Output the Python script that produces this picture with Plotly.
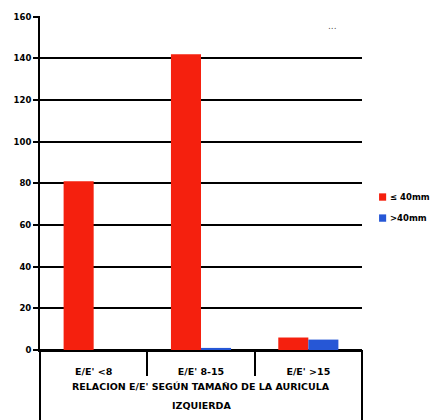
import plotly.graph_objects as go

# Categories and counts per left-atrium size group
categories = ["E/E' <8", "E/E' 8-15", "E/E' >15"]
series_names = ["≤ 40mm", ">40mm"]
values_le40 = [81, 142, 6]
values_gt40 = [0, 1, 5]
y_ticks = [0, 20, 40, 60, 80, 100, 120, 140, 160]
axis_title = ["RELACION E/E' SEGÚN TAMAÑO DE LA AURICULA", "IZQUIERDA"]

red = "#f5200e"
blue = "#2657d6"
colors = [red, blue]
font_main = "DejaVu Sans"

fig = go.Figure()
for name, vals, col in zip(series_names, [values_le40, values_gt40], colors):
    fig.add_trace(go.Bar(x=categories, y=vals, name=name,
                         marker=dict(color=col, line=dict(width=0)),
                         showlegend=False))

fig.update_layout(
    width=442, height=420,
    margin=dict(l=40, r=80, t=16, b=70, autoexpand=False),
    paper_bgcolor="white", plot_bgcolor="white",
    barmode="group", bargap=0.44, bargroupgap=0,
    font=dict(family=font_main, color="black"),
)

fig.update_yaxes(
    range=[0, 160.4], tickvals=y_ticks, showgrid=True, gridcolor="black",
    gridwidth=2, showline=True, linecolor="black", linewidth=2,
    ticks="outside", ticklen=5, tickwidth=2, tickcolor="black",
    zeroline=True, zerolinecolor="black", zerolinewidth=2,
    tickfont=dict(size=8.5, family=font_main, weight="bold"),
)

fig.update_xaxes(
    type="category", showline=True, linecolor="black", linewidth=2,
    ticks="outside", tickson="boundaries", ticklen=24, tickwidth=2,
    tickcolor="black", showgrid=False,
    tickfont=dict(size=9.5, family=font_main, weight="bold"),
    ticklabelstandoff=12,
)

# two-line category axis title
for line, yp in zip(axis_title, [-0.11, -0.165]):
    fig.add_annotation(text=line, xref="paper", yref="paper", x=0.5, y=yp,
                       xanchor="center", yanchor="middle", showarrow=False,
                       font=dict(size=9.5, family=font_main, weight="bold"))

# compact legend to the right of the plot: small square key + label
for i, (name, col) in enumerate(zip(series_names, colors)):
    yp = 0.458 - i * 0.063
    fig.add_shape(type="rect", xref="paper", yref="paper",
                  x0=1.053, x1=1.075, y0=yp - 0.011, y1=yp + 0.011,
                  fillcolor=col, line=dict(width=0))
    fig.add_annotation(text=name, xref="paper", yref="paper", x=1.082, y=yp,
                       xanchor="left", yanchor="middle", showarrow=False,
                       font=dict(size=8.5, family=font_main, weight="bold"))

# frame lines running from the baseline to the bottom edge
for xp in [0, 1]:
    fig.add_shape(type="line", xref="paper", yref="paper", x0=xp, x1=xp,
                  y0=-0.22, y1=0, line=dict(color="black", width=2))

fig.add_annotation(text="...", xref="paper", yref="paper", x=0.93, y=0.99,
                   showarrow=False, font=dict(size=9, color="#555"))

fig.write_html("out.html")
